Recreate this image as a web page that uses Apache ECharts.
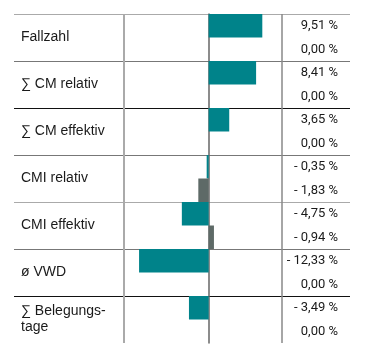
<!DOCTYPE html>
<html>
<head>
<meta charset="utf-8">
<script src="https://cdn.jsdelivr.net/npm/echarts@6/dist/echarts.min.js"></script>
<style>html,body{margin:0;padding:0;background:#fff;}#c{width:365px;height:360px;}</style>
</head>
<body>
<div id="c"></div>
<script>
var categories = ['Fallzahl', '∑ CM relativ', '∑ CM effektiv', 'CMI relativ', 'CMI effektiv', 'ø VWD', '∑ Belegungs-\ntage'];
var seriesA = [9.51, 8.41, 3.65, -0.35, -4.75, -12.33, -3.49];
var seriesB = [0.00, 0.00, 0.00, -1.83, 0.94, 0.00, 0.00];
var valueLabels = ['9,51 %', '0,00 %', '8,41 %', '0,00 %', '3,65 %', '0,00 %', '- 0,35 %', '- 1,83 %', '- 4,75 %', '- 0,94 %', '- 12,33 %', '0,00 %', '- 3,49 %', '0,00 %'];

var font = 'Liberation Sans, Arial, sans-serif';
var chart = echarts.init(document.getElementById('c'));
chart.setOption({
  animation: false,
  backgroundColor: '#fff',
  grid: [
    {left: 14, right: 15, top: 14, bottom: 17},
    {left: 124, right: 83, top: 14, bottom: 17}
  ],
  xAxis: [
    {gridIndex: 0, type: 'value', min: 0, max: 1, show: false},
    {gridIndex: 1, type: 'value', min: -15, max: 13,
     axisLine: {show: false}, axisTick: {show: false}, axisLabel: {show: false}, splitLine: {show: false}}
  ],
  yAxis: [
    {gridIndex: 0, type: 'category', inverse: true, data: categories,
     axisLine: {show: false}, axisTick: {show: false},
     axisLabel: {inside: true, margin: 7, align: 'left', color: '#1a1a1a', fontSize: 14, fontFamily: font, lineHeight: 16},
     splitLine: {show: true, lineStyle: {width: 1, color: ['#aaaaaa', '#777777', '#111111', '#777777', '#aaaaaa', '#777777', '#111111', 'rgba(0,0,0,0)']}}},
    {gridIndex: 0, type: 'category', position: 'right', inverse: true, data: valueLabels,
     axisLine: {show: false}, axisTick: {show: false},
     axisLabel: {inside: true, margin: 12, align: 'right', color: '#1a1a1a', fontSize: 13, fontFamily: 'Roboto, Liberation Sans, sans-serif'},
     splitLine: {show: false}},
    {gridIndex: 1, type: 'category', inverse: true, data: categories,
     axisLine: {show: true, onZero: true, lineStyle: {color: '#666666', width: 1.5}},
     axisTick: {show: false}, axisLabel: {show: false}, splitLine: {show: false}}
  ],
  series: [
    {type: 'bar', xAxisIndex: 1, yAxisIndex: 2, data: seriesA, barGap: '0%', barCategoryGap: '0%',
     itemStyle: {color: '#00838a'},
     markLine: {silent: true, symbol: 'none', label: {show: false},
       data: [
         {xAxis: -15, lineStyle: {color: '#aaaaaa', width: 2, type: 'solid'}},
         {xAxis: 13, lineStyle: {color: '#888888', width: 1.5, type: 'solid'}}
       ]}},
    {type: 'bar', xAxisIndex: 1, yAxisIndex: 2, data: seriesB, barGap: '0%', barCategoryGap: '0%',
     itemStyle: {color: '#5e6a67'}}
  ]
});
</script>
</body>
</html>
